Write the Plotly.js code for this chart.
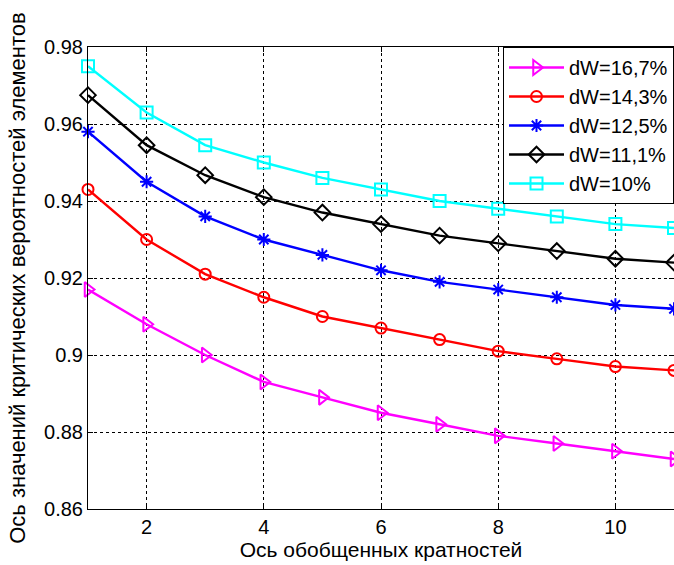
<!DOCTYPE html>
<html>
<head>
<meta charset="utf-8">
<script src="https://cdn.plot.ly/plotly-3.0.1.min.js"></script>
<style>html,body{margin:0;padding:0;background:#fff;}#chart{width:674px;height:565px;}</style>
</head>
<body>
<div id="chart"></div>
<script>
const xVals = [1, 2, 3, 4, 5, 6, 7, 8, 9, 10, 11];
const seriesNames = ["dW=16,7%", "dW=14,3%", "dW=12,5%", "dW=11,1%", "dW=10%"];
const dW167 = [0.917, 0.908, 0.900, 0.893, 0.889, 0.885, 0.882, 0.879, 0.877, 0.875, 0.873];
const dW143 = [0.943, 0.930, 0.921, 0.915, 0.910, 0.907, 0.904, 0.901, 0.899, 0.897, 0.896];
const dW125 = [0.958, 0.945, 0.936, 0.930, 0.926, 0.922, 0.919, 0.917, 0.915, 0.913, 0.912];
const dW111 = [0.9675, 0.9545, 0.9467, 0.941, 0.937, 0.934, 0.931, 0.929, 0.927, 0.925, 0.924];
const dW100 = [0.975, 0.963, 0.9545, 0.950, 0.946, 0.943, 0.940, 0.938, 0.936, 0.934, 0.933];
const xTicks = [2, 4, 6, 8, 10];
const yTicks = [0.86, 0.88, 0.9, 0.92, 0.94, 0.96, 0.98];
const yTickText = ["0.86", "0.88", "0.9", "0.92", "0.94", "0.96", "0.98"];

const colors = ["#ff00ff", "#ff0000", "#0000ff", "#000000", "#00ffff"];
const symbols = ["triangle-right-open", "circle-open", "asterisk-open", "diamond-open", "square-open"];
const sizes = [13, 11, 11, 12, 12];
const allY = [dW167, dW143, dW125, dW111, dW100];

const traces = allY.map((ys, i) => ({
  x: xVals, y: ys, name: seriesNames[i], type: "scatter", mode: "lines+markers",
  line: {color: colors[i], width: 2.4},
  marker: {symbol: symbols[i], size: sizes[i], color: colors[i], line: {color: colors[i], width: 2}},
  cliponaxis: false
}));

const fam = "Liberation Sans, Arial, sans-serif";
const layout = {
  width: 674, height: 565,
  margin: {l: 88, r: 0, t: 47, b: 56, pad: 0},
  paper_bgcolor: "#fff", plot_bgcolor: "#fff",
  font: {family: fam, size: 20, color: "#000"},
  showlegend: true,
  legend: {x: 1, y: 1, xanchor: "right", yanchor: "top", bgcolor: "#fff",
    bordercolor: "#000", borderwidth: 1, font: {family: fam, size: 20, color: "#000"},
    itemwidth: 55, tracegroupgap: 0},
  xaxis: {
    range: [1, 11], tickvals: xTicks, ticktext: xTicks.map(String),
    showgrid: true, gridcolor: "#000", griddash: "dot", gridwidth: 1,
    zeroline: false, showline: true, linecolor: "#000", linewidth: 1, mirror: "ticks",
    ticks: "inside", ticklen: 5, tickcolor: "#000",
    tickfont: {family: fam, size: 20, color: "#000"},
    title: {text: "Ось обобщенных кратностей", font: {family: fam, size: 21, color: "#000"}, standoff: 2}
  },
  yaxis: {
    range: [0.86, 0.98], tickvals: yTicks, ticktext: yTickText,
    showgrid: true, gridcolor: "#000", griddash: "dot", gridwidth: 1,
    zeroline: false, showline: true, linecolor: "#000", linewidth: 1, mirror: "ticks",
    ticks: "inside", ticklen: 5, tickcolor: "#000",
    tickfont: {family: fam, size: 20, color: "#000"},
    title: {text: "Ось значений критических вероятностей элементов", font: {family: fam, size: 22, color: "#000"}, standoff: 12}
  }
};
Plotly.newPlot("chart", traces, layout, {displayModeBar: false, staticPlot: true});
</script>
</body>
</html>
